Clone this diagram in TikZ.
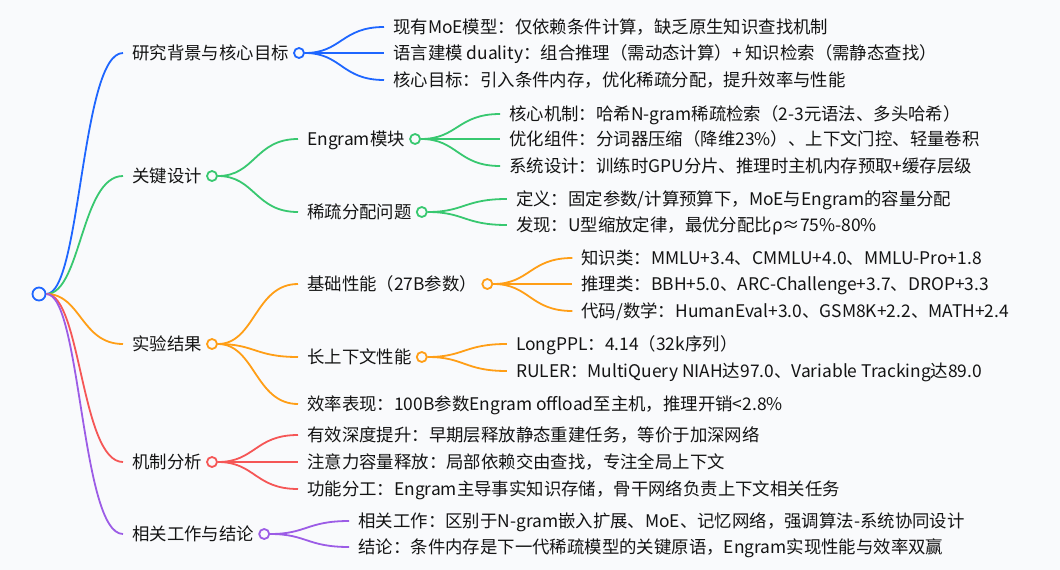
\documentclass[tikz,border=0pt]{standalone}
\usepackage{fontspec}
\setmainfont{Noto Sans CJK SC}
\usepackage{xcolor}
\usetikzlibrary{calc,positioning}

\definecolor{paper}{RGB}{249,250,252}
\definecolor{ink}{RGB}{20,20,20}
\definecolor{cblue}{RGB}{30,102,255}
\definecolor{cgreen}{RGB}{56,200,112}
\definecolor{corange}{RGB}{255,158,22}
\definecolor{cred}{RGB}{245,86,86}
\definecolor{cpurple}{RGB}{156,92,230}

\begin{document}
\begin{tikzpicture}[
  x=1pt, y=-1pt,
  font=\fontsize{17.4}{20}\selectfont,
  topic/.style={anchor=west, text=ink, inner xsep=9pt, inner ysep=0pt, text height=13.8pt, text depth=1pt},
  dot/.style={circle, draw=#1, fill=paper, line width=1.8pt, minimum size=10pt, inner sep=0pt},
  branch/.style={draw=#1, line width=1.8pt,
    to path={.. controls ($(\tikztostart)!0.5!(\tikztostart -| \tikztotarget)$)
      and ($(\tikztotarget)!0.5!(\tikztotarget -| \tikztostart)$) .. (\tikztotarget)}}
]
\fill[paper] (0,0) rectangle (1060,570);
\useasboundingbox (0,0) rectangle (1060,570);

\node[dot=cblue, minimum size=13pt] (root) at (39,294) {};

% first level
\node[topic] (bg) at (123,53) {研究背景与核心目标};
\node[dot=cblue] (bg-o) at ([xshift=1pt]bg.east) {};
\node[topic] (design) at (123,176) {关键设计};
\node[dot=cgreen] (design-o) at ([xshift=1pt]design.east) {};
\node[topic] (exp) at (123,344) {实验结果};
\node[dot=corange] (exp-o) at ([xshift=1pt]exp.east) {};
\node[topic] (mech) at (123,462) {机制分析};
\node[dot=cred] (mech-o) at ([xshift=1pt]mech.east) {};
\node[topic] (rel) at (123,534) {相关工作与结论};
\node[dot=cpurple] (rel-o) at ([xshift=1pt]rel.east) {};

% background
\node[topic] (bg1) at ($(bg-o)+(85,-26)$) {现有MoE模型：仅依赖条件计算，缺乏原生知识查找机制};
\node[topic] (bg2) at ($(bg-o)+(85,0)$) {语言建模 duality：组合推理（需动态计算）+ 知识检索（需静态查找）};
\node[topic] (bg3) at ($(bg-o)+(85,27)$) {核心目标：引入条件内存，优化稀疏分配，提升效率与性能};

% design
\node[topic] (engram) at ($(design-o)+(86,-37)$) {Engram模块};
\node[dot=cgreen] (engram-o) at ([xshift=1pt]engram.east) {};
\node[topic] (sparse) at ($(design-o)+(86,36)$) {稀疏分配问题};
\node[dot=cgreen] (sparse-o) at ([xshift=1pt]sparse.east) {};
\node[topic] (engram1) at ($(engram-o)+(85,-25)$) {核心机制：哈希N-gram稀疏检索（2-3元语法、多头哈希）};
\node[topic] (engram2) at ($(engram-o)+(85,0)$) {优化组件：分词器压缩（降维23\%）、上下文门控、轻量卷积};
\node[topic] (engram3) at ($(engram-o)+(85,27)$) {系统设计：训练时GPU分片、推理时主机内存预取+缓存层级};
\node[topic] (sparse1) at ($(sparse-o)+(85,-13)$) {定义：固定参数/计算预算下，MoE与Engram的容量分配};
\node[topic] (sparse2) at ($(sparse-o)+(85,13)$) {发现：U型缩放定律，最优分配比ρ≈75\%-80\%};

% experiments
\node[topic] (base) at ($(exp-o)+(86,-60)$) {基础性能（27B参数）};
\node[dot=corange] (base-o) at ([xshift=1pt]base.east) {};
\node[topic] (long) at ($(exp-o)+(86,13)$) {长上下文性能};
\node[dot=corange] (long-o) at ([xshift=1pt]long.east) {};
\node[topic] (eff) at ($(exp-o)+(86,60)$) {效率表现：100B参数Engram offload至主机，推理开销<2.8\%};
\node[topic] (base1) at ($(base-o)+(85,-26)$) {知识类：MMLU+3.4、CMMLU+4.0、MMLU-Pro+1.8};
\node[topic] (base2) at ($(base-o)+(85,0)$) {推理类：BBH+5.0、ARC-Challenge+3.7、DROP+3.3};
\node[topic] (base3) at ($(base-o)+(85,27)$) {代码/数学：HumanEval+3.0、GSM8K+2.2、MATH+2.4};
\node[topic] (long1) at ($(long-o)+(85,-13)$) {LongPPL：4.14（32k序列）};
\node[topic] (long2) at ($(long-o)+(85,14)$) {RULER：MultiQuery NIAH达97.0、Variable Tracking达89.0};

% mechanism
\node[topic] (mech1) at ($(mech-o)+(86,-27)$) {有效深度提升：早期层释放静态重建任务，等价于加深网络};
\node[topic] (mech2) at ($(mech-o)+(86,0)$) {注意力容量释放：局部依赖交由查找，专注全局上下文};
\node[topic] (mech3) at ($(mech-o)+(86,27)$) {功能分工：Engram主导事实知识存储，骨干网络负责上下文相关任务};

% related work
\node[topic] (rel1) at ($(rel-o)+(85,-13)$) {相关工作：区别于N-gram嵌入扩展、MoE、记忆网络，强调算法-系统协同设计};
\node[topic] (rel2) at ($(rel-o)+(85,13)$) {结论：条件内存是下一代稀疏模型的关键原语，Engram实现性能与效率双赢};

\draw[branch=cblue] (root) to (bg.west);
\draw[branch=cgreen] (root) to (design.west);
\draw[branch=corange] (root) to (exp.west);
\draw[branch=cred] (root) to (mech.west);
\draw[branch=cpurple] (root) to (rel.west);

\draw[branch=cblue] (bg-o) to (bg1.west);
\draw[branch=cblue] (bg-o) to (bg2.west);
\draw[branch=cblue] (bg-o) to (bg3.west);

\draw[branch=cgreen] (design-o) to (engram.west);
\draw[branch=cgreen] (design-o) to (sparse.west);
\draw[branch=cgreen] (engram-o) to (engram1.west);
\draw[branch=cgreen] (engram-o) to (engram2.west);
\draw[branch=cgreen] (engram-o) to (engram3.west);
\draw[branch=cgreen] (sparse-o) to (sparse1.west);
\draw[branch=cgreen] (sparse-o) to (sparse2.west);

\draw[branch=corange] (exp-o) to (base.west);
\draw[branch=corange] (exp-o) to (long.west);
\draw[branch=corange] (exp-o) to (eff.west);
\draw[branch=corange] (base-o) to (base1.west);
\draw[branch=corange] (base-o) to (base2.west);
\draw[branch=corange] (base-o) to (base3.west);
\draw[branch=corange] (long-o) to (long1.west);
\draw[branch=corange] (long-o) to (long2.west);

\draw[branch=cred] (mech-o) to (mech1.west);
\draw[branch=cred] (mech-o) to (mech2.west);
\draw[branch=cred] (mech-o) to (mech3.west);

\draw[branch=cpurple] (rel-o) to (rel1.west);
\draw[branch=cpurple] (rel-o) to (rel2.west);
\end{tikzpicture}
\end{document}
